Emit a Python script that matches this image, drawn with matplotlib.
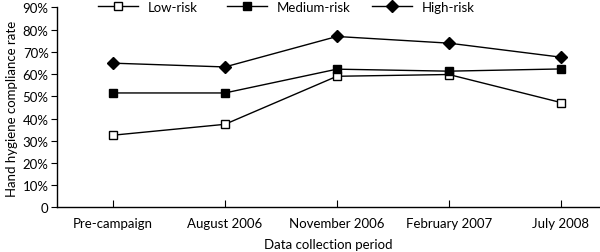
import matplotlib
matplotlib.use("Agg")
import matplotlib.pyplot as plt
from matplotlib.ticker import FuncFormatter

periods = ["Pre-campaign", "August 2006", "November 2006", "February 2007", "July 2008"]
low_risk = [32.5, 37.4, 59.0, 59.8, 47.2]
medium_risk = [51.5, 51.5, 62.2, 61.3, 62.3]
high_risk = [64.9, 63.2, 76.9, 73.9, 67.6]
y_ticks = [0, 10, 20, 30, 40, 50, 60, 70, 80, 90]

plt.rcParams["font.family"] = ["Lato", "DejaVu Sans"]
plt.rcParams["font.size"] = 9

W, H = 600, 253
fig = plt.figure(figsize=(W / 100, H / 100), dpi=100)
ax = fig.add_axes([0.095, 0.176, 0.905, 0.791])

x = range(len(periods))
lines = []
lines += ax.plot(x, low_risk, color="black", lw=1, marker="s", ms=6,
                 mfc="white", mec="black", mew=1, label="Low-risk")
lines += ax.plot(x, medium_risk, color="black", lw=1, marker="s", ms=6,
                 mfc="black", mec="black", label="Medium-risk")
lines += ax.plot(x, high_risk, color="black", lw=1, marker="D", ms=6.5,
                 mfc="black", mec="black", label="High-risk")

ax.set_xlim(-0.5, 4.35)
ax.set_ylim(0, 90)
ax.set_xticks(list(x))
ax.set_xticklabels(periods)
ax.set_yticks(y_ticks)
ax.yaxis.set_major_formatter(FuncFormatter(lambda v, p: "0" if v == 0 else f"{v:.0f}%"))

for s in ("top", "right"):
    ax.spines[s].set_visible(False)
for s in ("left", "bottom"):
    ax.spines[s].set_linewidth(1)
ax.tick_params(axis="x", direction="in", length=5, pad=7, labelsize=9.5)
ax.tick_params(axis="y", direction="out", length=4, pad=2, labelsize=9.5)

ax.set_xlabel("Data collection period", fontsize=9.5, labelpad=6)
ax.set_ylabel("Hand hygiene compliance rate", fontsize=9.5, labelpad=3)

# one legend entry per series, laid out in a row above the plot
entry_left = [98, 227, 372]
for handle, px in zip(lines, entry_left):
    fig.legend(handles=[handle], loc="center left",
               bbox_to_anchor=(px / W, 1 - 7.5 / H), frameon=False,
               borderpad=0, borderaxespad=0, handlelength=3.0,
               handletextpad=0.76, fontsize=9.5)

fig.savefig("out.png", dpi=100)
